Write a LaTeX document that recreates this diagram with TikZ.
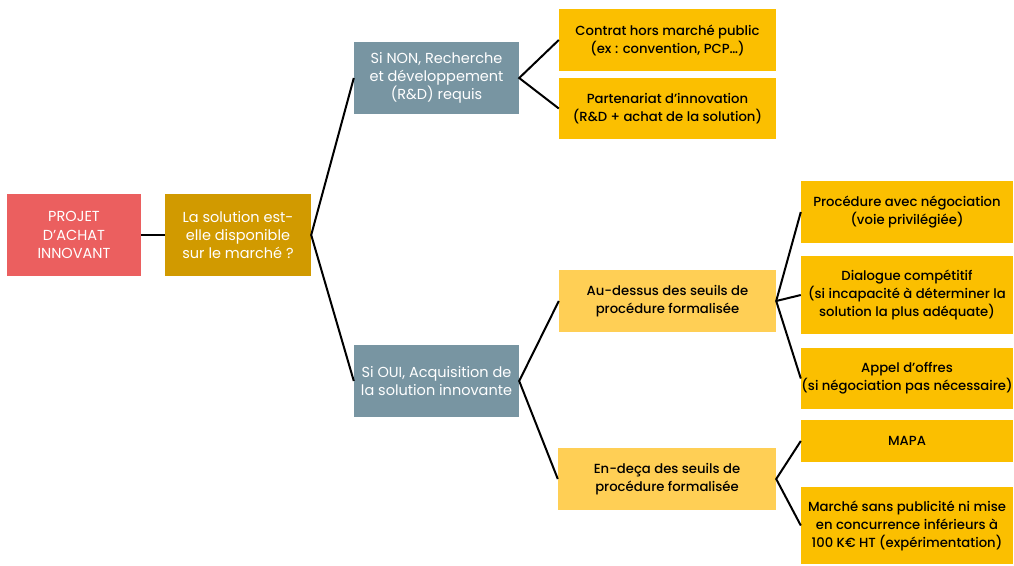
\documentclass[tikz,border=0pt]{standalone}
\usepackage{fontspec}
\setmainfont{Poppins}
\newfontfamily\mediumfont{Poppins Medium}
\definecolor{projred}{HTML}{EB5F5F}
\definecolor{questgold}{HTML}{D19A00}
\definecolor{sigrey}{HTML}{7895A2}
\definecolor{leafamber}{HTML}{FBBF00}
\definecolor{seuillight}{HTML}{FFCF55}

\tikzset{
	boite/.style={inner sep=0pt, align=center, font=\fontsize{14.5}{18.3}\selectfont},
	projet/.style={boite, fill=projred, text=white},
	question/.style={boite, fill=questgold, text=white},
	choix/.style={boite, fill=sigrey, text=white},
	seuil/.style={boite, fill=seuillight, text=black, font=\fontsize{13.2}{18}\mediumfont},
	feuille/.style={boite, fill=leafamber, text=black, font=\fontsize{13.2}{18}\mediumfont},
	lien/.style={line width=2pt, black}
}

\begin{document}
\begin{tikzpicture}[x=1pt,y=-1pt]
	\useasboundingbox (0,0) rectangle (1014,565);
	% colonne gauche
	\node[projet, minimum width=134pt, minimum height=82pt] (projet) at (74,235) {PROJET\\D’ACHAT\\INNOVANT};
	\node[question, minimum width=146pt, minimum height=82pt] (question) at (238,235) {La solution est-\\elle disponible\\sur le march\'e ?};
	% branches
	\node[choix, minimum width=165pt, minimum height=72pt] (non) at (436.5,78) {Si NON, Recherche\\et d\'eveloppement\\(R\&D) requis};
	\node[choix, minimum width=165pt, minimum height=72pt] (oui) at (436.5,381) {Si OUI, Acquisition de\\la solution innovante};
	\node[feuille, minimum width=217pt, minimum height=62pt] (contrat) at (667.5,40) {Contrat hors march\'e public\\(ex : convention, PCP…)};
	\node[feuille, minimum width=217pt, minimum height=61pt] (partenariat) at (667.5,108.5) {Partenariat d’innovation\\(R\&D + achat de la solution)};
	\node[seuil, minimum width=217pt, minimum height=62pt] (dessus) at (667.5,301) {Au-dessus des seuils de\\proc\'edure formalis\'ee};
	\node[seuil, minimum width=218pt, minimum height=62pt] (deca) at (667,479) {En-de\c{c}a des seuils de\\proc\'edure formalis\'ee};
	% procedures
	\node[feuille, minimum width=212pt, minimum height=62pt] (negociation) at (907,212) {Proc\'edure avec n\'egociation\\(voie privil\'egi\'ee)};
	\node[feuille, minimum width=212pt, minimum height=78pt] (dialogue) at (907,295) {Dialogue comp\'etitif\\(si incapacit\'e \`a d\'eterminer la\\solution la plus ad\'equate)};
	\node[feuille, minimum width=212pt, minimum height=61pt] (appel) at (907,378.5) {Appel d’offres\\(si n\'egociation pas n\'ecessaire)};
	\node[feuille, minimum width=212pt, minimum height=42pt] (mapa) at (907,441) {MAPA};
	\node[feuille, minimum width=212pt, minimum height=77pt] (sanspub) at (907,525.5) {March\'e sans publicit\'e ni mise\\en concurrence inf\'erieurs \`a\\100 K€ HT (exp\'erimentation)};
	% liens
	\draw[lien] (projet.east) -- (question.west);
	\draw[lien] (non.west) -- (question.east) -- (oui.west);
	\draw[lien] (contrat.west) -- (non.east) -- (partenariat.west);
	\draw[lien] (dessus.west) -- (oui.east) -- (deca.west);
	\draw[lien] (negociation.west) -- (dessus.east) -- (appel.west);
	\draw[lien] (dessus.east) -- (dialogue.west);
	\draw[lien] (mapa.west) -- (deca.east) -- (sanspub.west);
\end{tikzpicture}
\end{document}
